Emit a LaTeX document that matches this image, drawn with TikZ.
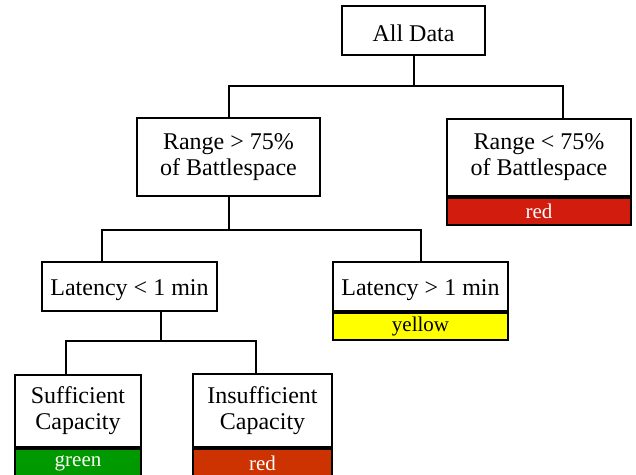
\documentclass[tikz,border=0pt]{standalone}
\usepackage{fontspec}
\setmainfont{Liberation Serif}
\definecolor{barred}{RGB}{210,28,14}
\definecolor{barorange}{RGB}{204,51,0}
\definecolor{bargreen}{RGB}{0,153,0}
\definecolor{baryellow}{RGB}{255,255,0}
\begin{document}
\begin{tikzpicture}[x=1pt,y=-1pt,
  box/.style={draw=black,line width=2pt,fill=white,align=center,inner sep=0pt,
    font=\fontsize{24}{26}\selectfont,execute at begin node={\rule{0pt}{23pt}}},
  bar/.style={draw=black,line width=2pt,inner sep=0pt,anchor=north,
    font=\fontsize{21}{23}\selectfont},
  link/.style={draw=black,line width=2pt}]
\useasboundingbox (0,0) rectangle (636,474);
% boxes
\node[box,minimum width=143pt,minimum height=49pt] (all) at (413.5,30.5) {All Data};
\node[box,minimum width=183pt,minimum height=78pt] (r1) at (228.5,157) {Range > 75\%\\of Battlespace};
\node[box,minimum width=184pt,minimum height=77pt] (r2) at (539,157.5) {Range < 75\%\\of Battlespace};
\node[bar,fill=barred,text=white,minimum width=184pt,minimum height=27pt] (r2bar) at (r2.south) {red};
\node[box,minimum width=175pt,minimum height=49pt] (l1) at (129.5,286.5) {Latency < 1 min};
\node[box,minimum width=175pt,minimum height=49pt] (l2) at (420.5,286.5) {Latency > 1 min};
\node[bar,fill=baryellow,text=black,minimum width=175pt,minimum height=27pt] (l2bar) at (l2.south) {yellow};
\node[box,minimum width=126pt,minimum height=72pt] (c1) at (78,411) {Sufficient\\Capacity};
\node[bar,fill=bargreen,text=white,minimum width=126pt,minimum height=28pt] (c1bar) at (c1.south) {green};
\node[box,minimum width=139pt,minimum height=73pt] (c2) at (262.5,410.5) {Insufficient\\Capacity};
\node[bar,fill=barorange,text=white,minimum width=139pt,minimum height=28pt] (c2bar) at (c2.south) {red};
% junctions
\coordinate (j1) at (all.south |- 0,86);
\coordinate (j2) at (r1.south |- 0,230);
\coordinate (j3) at ([xshift=31.5pt]l1.south |- 0,341);
% connectors
\draw[link] (all.south) -- (j1);
\draw[link] (r1.north) |- (j1) -| ([xshift=24pt]r2.north);
\draw[link] (r1.south) -- (j2);
\draw[link] ([xshift=-27.5pt]l1.north) |- (j2) -| (l2.north);
\draw[link] ([xshift=31.5pt]l1.south) -- (j3);
\draw[link] ([xshift=-12pt]c1.north) |- (j3) -| ([xshift=-6.5pt]c2.north);
\end{tikzpicture}
\end{document}
